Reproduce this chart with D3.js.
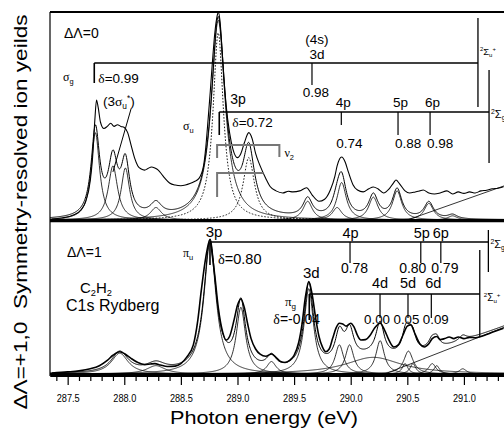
<!DOCTYPE html>
<html lang="en">
<head>
<meta charset="utf-8" />
<title>C2H2 C1s Rydberg - symmetry resolved ion yields</title>
<script src="https://cdn.jsdelivr.net/npm/d3@7/dist/d3.min.js"></script>
<style>
  body { margin: 0; background: #fff; }
  svg { display: block; font-family: "Liberation Sans", Arial, sans-serif; }
  .exp { fill: none; stroke: #000; stroke-width: 1.1px; }
  .expL { fill: none; stroke: #000; stroke-width: 1.6px; }
  .fit { fill: none; stroke: #000; stroke-width: 1px; }
  .comp { fill: none; stroke: #000; stroke-width: 0.8px; }
  .dot { fill: none; stroke: #000; stroke-width: 0.9px; stroke-dasharray: 1.6,1.6; }
  .comb { stroke: #000; stroke-width: 1.6px; }
  .vib { stroke: #777; stroke-width: 2px; fill: none; }
</style>
</head>
<body>
<script>
// ---- values ----
// measured yields [photon energy (eV), yield (arb.)], upper panel (ΔΛ=0)
var expUpper = [[287.36,0.5],[287.45,1],[287.55,2.4],[287.62,5],[287.66,9],[287.70,19],[287.72,30],
  [287.74,48],[287.755,57.7],[287.77,54],[287.79,47],[287.82,44],[287.85,45],[287.88,46.5],[287.91,45],
  [287.94,45.8],[287.97,45],[288.00,44.5],[288.03,42],[288.06,36],[288.09,30],[288.12,26],[288.15,24.5],
  [288.18,24],[288.21,24.8],[288.24,25.5],[288.27,25],[288.30,24],[288.33,22],[288.36,20],[288.40,17.8],
  [288.45,16.8],[288.50,16.5],[288.54,16.8],[288.58,17.5],[288.62,18.5],[288.66,20],[288.70,26],[288.72,35],
  [288.74,48],[288.76,62],[288.78,77],[288.80,90],[288.82,98],[288.83,100],[288.845,96],[288.86,85],
  [288.88,68],[288.90,55],[288.93,42],[288.96,34],[289.00,30],[289.03,32],[289.06,37],[289.10,42],
  [289.13,39],[289.16,32],[289.20,26],[289.25,20],[289.29,16],[289.34,14],[289.40,13],[289.45,13.8],
  [289.49,13.5],[289.55,14],[289.61,15.5],[289.66,12],[289.72,9],[289.77,10],[289.82,14.4],[289.86,21],
  [289.88,26],[289.92,30.3],[289.95,28],[289.98,23],[290.02,17],[290.06,14.4],[290.11,13.5],[290.16,15],
  [290.20,15.9],[290.24,15],[290.29,13],[290.34,15],[290.38,18],[290.40,19.2],[290.43,17.5],[290.48,14],
  [290.52,13],[290.57,13.5],[290.61,14],[290.64,14.4],[290.69,13],[290.74,12.5],[290.79,13],[290.85,14],
  [290.90,12.5],[290.95,13.5],[291.00,12.8],[291.05,13.5],[291.10,13],[291.15,14],[291.20,14.3],
  [291.25,15],[291.30,15.3],[291.35,16]];

// measured yields, lower panel (ΔΛ=1)
var expLower = [[287.36,0.5],[287.50,1],[287.60,1.5],[287.70,2.5],[287.78,4],[287.85,6.5],[287.90,9],
  [287.96,10.7],[288.01,9.5],[288.06,7.5],[288.12,5.5],[288.18,4.5],[288.23,4.8],[288.27,5],[288.32,4.3],
  [288.38,3.6],[288.45,3.8],[288.50,5],[288.55,8],[288.61,14],[288.65,26],[288.68,40],[288.72,56],
  [288.757,64.4],[288.78,56],[288.80,47],[288.83,32],[288.87,20],[288.90,16.3],[288.93,18],[288.97,26],
  [289.00,33],[289.03,36],[289.06,32],[289.09,24],[289.12,17],[289.16,12],[289.20,9.5],[289.25,8.5],
  [289.30,9.6],[289.34,8],[289.38,6],[289.42,5.5],[289.46,6.5],[289.50,9],[289.54,15],[289.57,24],
  [289.60,37],[289.63,44.4],[289.66,38],[289.69,27],[289.72,18],[289.75,13],[289.78,10.7],[289.81,12],
  [289.84,17],[289.87,22],[289.90,24.4],[289.93,24],[289.96,23],[290.00,24.4],[290.03,22.5],[290.06,18.5],
  [290.09,16.3],[290.13,16.5],[290.17,18.5],[290.21,22],[290.26,24.4],[290.30,21],[290.34,16],[290.38,13],
  [290.42,14],[290.46,18.5],[290.50,23],[290.53,23.6],[290.57,19],[290.61,14.5],[290.65,13],[290.69,14.5],
  [290.72,17],[290.76,18],[290.79,16.5],[290.83,17],[290.87,17.8],[290.91,17],[290.95,17.8],[291.00,17],
  [291.05,17.6],[291.10,17.4],[291.15,18],[291.20,19],[291.25,20],[291.30,21],[291.35,22]];

// fitted peaks [centre (eV), height, half width (eV)]
var compUpper = [[287.745,42,0.045],[287.90,26,0.05],[288.01,25,0.045],[288.28,6,0.06],
  [288.83,96,0.075],[289.62,9,0.05],[289.88,6,0.05],[289.92,18,0.05],[290.20,11,0.05],
  [290.41,14,0.05],[290.69,8,0.05],[290.90,2,0.05]];
var dottedUpper = [[288.83,90,0.055],[289.10,30,0.06]];
var compLower = [[287.96,10,0.09],[288.28,4,0.1],[288.757,63,0.065],[289.03,32,0.05],[289.30,6,0.05],
  [289.63,41,0.05],[289.90,14,0.045],[289.99,14,0.045],[290.20,8,0.3],[290.26,16,0.045],
  [290.48,5,0.03],[290.51,11,0.05],[290.55,5,0.03],[290.72,5,0.04],[290.76,4,0.03],[290.99,2.5,0.04]];
// continuum background lines
var bgUpper = [[290.50,0],[291.36,16.5]];
var bgLower = [[290.30,0],[291.36,22.5]];

// Rydberg series: first member, limit, quantum defect and members
var sgSeries = {start: 287.735, lim: 291.124, delta: "0.99"};
var sgTerms = [{n: "3d", top: "(4s)", e: 289.658, d: "0.98"}];
var suSeries = {start: 288.839, lim: 291.222, delta: "0.72", first: "3p"};
var suTerms = [{n: "4p", e: 289.917, d: "0.74"}, {n: "5p", e: 290.418, d: "0.88"}, {n: "6p", e: 290.701, d: "0.98"}];
var puSeries = {start: 288.757, lim: 291.216, delta: "0.80", first: "3p"};
var puTerms = [{n: "4p", e: 289.994, d: "0.78"}, {n: "5p", e: 290.619, d: "0.80"}, {n: "6p", e: 290.796, d: "0.79"}];
var pgSeries = {start: 289.634, lim: 291.140, delta: "-0.04", first: "3d"};
var pgTerms = [{n: "4d", e: 290.259, d: "0.00"}, {n: "5d", e: 290.506, d: "0.05"}, {n: "6d", e: 290.712, d: "0.09"}];
// ν2 vibrational brackets on the 3pσu peak
var vibBars = [{from: 288.82, to: 289.37}, {from: 288.82, to: 289.23}];

var xMajor = [287.5, 288.0, 288.5, 289.0, 289.5, 290.0, 290.5, 291.0];

// ---- drawing ----
var serif = "'Liberation Serif', 'Times New Roman', serif";
var svg = d3.select("body").append("svg").attr("width", 504).attr("height", 429);

var x = d3.scaleLinear().domain([287.344, 291.354]).range([50, 504]);
var yU = d3.scaleLinear().domain([0, 100]).range([220, 12]);
var yL = d3.scaleLinear().domain([0, 73]).range([374, 222]);

var defs = svg.append("defs");
defs.append("clipPath").attr("id", "clipU").append("rect").attr("x", 50).attr("y", 11).attr("width", 454).attr("height", 210);
defs.append("clipPath").attr("id", "clipL").append("rect").attr("x", 50).attr("y", 221).attr("width", 454).attr("height", 154);

var grid = d3.range(287.344, 291.36, 0.004);
function lor(p) {
  return function(e) { var d = e - p[0]; return p[1] * p[2] * p[2] / (d * d + p[2] * p[2]); };
}
function bgAt(bg, e) {
  if (e <= bg[0][0]) return 0;
  return bg[0][1] + (e - bg[0][0]) * (bg[1][1] - bg[0][1]) / (bg[1][0] - bg[0][0]);
}

function panel(clip, y, comps, dotted, fitParts, bg, bgInFit, exp, expClass) {
  var g = svg.append("g").attr("clip-path", "url(#" + clip + ")");
  var line = d3.line().x(function(d) { return x(d[0]); }).y(function(d) { return y(d[1]); });
  comps.forEach(function(p) {
    var f = lor(p);
    g.append("path").datum(grid.map(function(e) { return [e, f(e)]; })).attr("class", "comp").attr("d", line);
  });
  dotted.forEach(function(p) {
    var f = lor(p);
    g.append("path").datum(grid.map(function(e) { return [e, f(e)]; })).attr("class", "dot").attr("d", line);
  });
  g.append("path").datum(bg).attr("class", "comp").attr("d", line);
  g.append("path")
    .datum(grid.map(function(e) {
      return [e, d3.sum(fitParts, function(p) { return lor(p)(e); }) + (bgInFit ? bgAt(bg, e) : 0)];
    }))
    .attr("class", "fit").attr("d", line);
  g.append("path").datum(exp).attr("class", expClass)
    .attr("d", line.curve(d3.curveMonotoneX));
  return g;
}

panel("clipU", yU, compUpper, dottedUpper, compUpper.concat([dottedUpper[1]]), bgUpper, false, expUpper, "exp");
panel("clipL", yL, compLower, [], compLower, bgLower, true, expLower, "expL");

// text with sub/superscripts
function rich(x0, y0, size, parts, anchor) {
  var t = svg.append("text").attr("x", x0).attr("y", y0).attr("font-size", size)
    .attr("text-anchor", anchor || "start");
  var shift = 0;
  parts.forEach(function(p) {
    var want = 0, fs = size;
    if (p[1] == "sub") { want = size * 0.22; fs = size * 0.62; }
    if (p[1] == "sup") { want = -size * 0.4; fs = size * 0.62; }
    var s = t.append("tspan").text(p[0]).attr("font-size", fs).attr("dy", want - shift);
    if (p[2]) s.attr("font-family", p[2]);
    shift = want;
  });
  return t;
}

// Rydberg combs
function comb(s, terms, o) {
  var g = svg.append("g");
  g.append("line").attr("class", "comb").attr("x1", x(s.start)).attr("x2", x(s.lim))
    .attr("y1", o.level).attr("y2", o.level);
  g.append("line").attr("class", "comb").attr("x1", x(s.start)).attr("x2", x(s.start))
    .attr("y1", o.level).attr("y2", o.level + o.drop);
  g.append("line").attr("stroke", "#000").attr("stroke-width", 1.3)
    .attr("x1", x(s.lim)).attr("x2", x(s.lim)).attr("y1", o.limTop).attr("y2", o.limBot);
  terms.forEach(function(t, i) {
    var xt = x(t.e);
    g.append("line").attr("stroke", "#000").attr("stroke-width", 1.2)
      .attr("x1", xt).attr("x2", xt).attr("y1", o.level).attr("y2", o.level + o.tickLen[i]);
    g.append("text").attr("x", xt + o.nameDx[i]).attr("y", o.nameY).attr("font-size", o.size)
      .attr("text-anchor", "middle").text(t.n);
    if (t.top) g.append("text").attr("x", xt + o.nameDx[i]).attr("y", o.topY).attr("font-size", o.size)
      .attr("text-anchor", "middle").text(t.top);
    g.append("text").attr("x", xt + o.valDx[i]).attr("y", o.valY).attr("font-size", o.valSize || o.size)
      .attr("text-anchor", "middle").text(t.d);
  });
}

comb(sgSeries, sgTerms, {level: 63, drop: 20, limTop: 18, limBot: 107, tickLen: [22],
  nameY: 59, topY: 44, nameDx: [5], valY: 97, valDx: [4], size: 13.5});
comb(suSeries, suTerms, {level: 112, drop: 23, limTop: 70, limBot: 163, tickLen: [13, 23, 23],
  nameY: 107, nameDx: [2, 2.5, 2.5], valY: 148, valDx: [8, 10, 10], size: 13.5});
comb(puSeries, puTerms, {level: 242, drop: 23, limTop: 230, limBot: 272, tickLen: [21, 21, 21],
  nameY: 238, nameDx: [0.5, 1, 0], valY: 273, valDx: [4.5, -8, 4], size: 14.5, valSize: 14});
comb(pgSeries, pgTerms, {level: 294, drop: 26, limTop: 250, limBot: 337, tickLen: [24, 24, 24],
  nameY: 288, nameDx: [0, 0, 2], valY: 324, valDx: [-3, -1.5, 4.5], size: 14.5, valSize: 13.3});

// series labels
rich(63, 81, 12, [["σ", "", serif], ["g", "sub"]]);
rich(x(sgSeries.start) + 4, 83, 13.5, [["δ", "", serif], ["=" + sgSeries.delta, ""]]);
rich(x(sgSeries.lim) + 2, 55, 9.5, [["2", "sup"], ["Σ", ""], ["u", "sub"], ["+", "sup"]]);

svg.append("text").attr("x", x(suSeries.start) + 11).attr("y", 104).attr("font-size", 14).text(suSeries.first);
rich(183, 130, 12, [["σ", "", serif], ["u", "sub"]]);
rich(x(suSeries.start) + 13, 127, 13.5, [["δ", "", serif], ["=" + suSeries.delta, ""]]);
rich(x(suSeries.lim) + 2, 118, 11, [["2", "sup"], ["Σ", ""], ["g", "sub"]]);

svg.append("text").attr("x", x(puSeries.start) + 4).attr("y", 237).attr("font-size", 15)
  .attr("text-anchor", "middle").text(puSeries.first);
rich(183, 257, 12, [["π", "", serif], ["u", "sub"]]);
rich(x(puSeries.start) + 8, 264, 14.5, [["δ", "", serif], ["=" + puSeries.delta, ""]]);
rich(x(puSeries.lim) + 2, 248, 11, [["2", "sup"], ["Σ", ""], ["g", "sub"]]);

svg.append("text").attr("x", x(pgSeries.start) + 2).attr("y", 278).attr("font-size", 15)
  .attr("text-anchor", "middle").text(pgSeries.first);
rich(285, 306, 13, [["π", "", serif], ["g", "sub"]]);
rich(x(pgSeries.start) - 36, 324, 14, [["δ", "", serif], ["=" + pgSeries.delta, ""]]);
rich(x(pgSeries.lim) + 4, 301, 10, [["2", "sup"], ["Σ", ""], ["u", "sub"], ["+", "sup"]]);

// ν2 brackets
vibBars.forEach(function(b, i) {
  var yb = i == 0 ? 145 : 173;
  var down = i == 0 ? 13 : 24;
  svg.append("path").attr("class", "vib")
    .attr("d", "M" + x(b.from) + "," + (yb + down) + "V" + yb + "H" + x(b.to) + (i == 0 ? "V" + (yb + 12) : ""));
});
rich(x(vibBars[0].to) + 5, 157, 12, [["ν", "", serif], ["2", "sub"]]);

// panel texts
svg.append("text").attr("x", 64).attr("y", 38).attr("font-size", 14).text("ΔΛ=0");
svg.append("text").attr("x", 67).attr("y", 257).attr("font-size", 14).text("ΔΛ=1");
rich(103, 106, 13.5, [["(3", ""], ["σ", "", serif], ["u", "sub"], ["*", "sup"], [")", ""]]);
svg.append("line").attr("stroke", "#000").attr("stroke-width", 1)
  .attr("x1", 131).attr("y1", 109).attr("x2", x(compUpper[1][0])).attr("y2", yU(compUpper[1][1]) + 6);
rich(80, 293, 15, [["C", ""], ["2", "sub"], ["H", ""], ["2", "sub"]]);
svg.append("text").attr("x", 66).attr("y", 311).attr("font-size", 16).text("C1s Rydberg");

// frame
svg.append("line").attr("stroke", "#000").attr("stroke-width", 1.8).attr("x1", 50).attr("x2", 504).attr("y1", 12).attr("y2", 12);
svg.append("line").attr("stroke", "#000").attr("stroke-width", 1.2).attr("x1", 50).attr("x2", 50).attr("y1", 12).attr("y2", 376);
svg.append("line").attr("stroke", "#000").attr("stroke-width", 2.5).attr("x1", 50).attr("x2", 504).attr("y1", 221).attr("y2", 221);

// x axis
var minor = d3.range(287.4, 291.36, 0.1).filter(function(v) {
  return xMajor.every(function(m) { return Math.abs(m - v) > 0.01; });
});
var axG = svg.append("g").attr("transform", "translate(0,375)");
axG.call(d3.axisBottom(x).tickValues(minor).tickSize(6).tickSizeOuter(0).tickFormat(""));
axG.append("g").call(d3.axisBottom(x).tickValues(xMajor).tickSize(10).tickSizeOuter(0).tickFormat(d3.format(".1f")));
axG.selectAll(".domain").attr("stroke-width", 3);
axG.selectAll(".tick line").attr("stroke-width", 1.2);
axG.selectAll(".tick text").attr("y", 19.5).attr("font-size", 10.5)
  .attr("font-family", "'Liberation Sans', Arial, sans-serif")
  .attr("textLength", 23).attr("lengthAdjust", "spacingAndGlyphs");

svg.append("text").attr("x", 264).attr("y", 424).attr("font-size", 17.5).attr("text-anchor", "middle")
  .attr("textLength", 188).attr("lengthAdjust", "spacingAndGlyphs").text("Photon energy (eV)");
svg.append("text").attr("transform", "translate(27,212) rotate(-90)").attr("font-size", 19)
  .attr("text-anchor", "middle").attr("textLength", 395).attr("lengthAdjust", "spacingAndGlyphs")
  .text("ΔΛ=+1,0\u00a0\u00a0Symmetry-resolved ion yeilds");
</script>
</body>
</html>
